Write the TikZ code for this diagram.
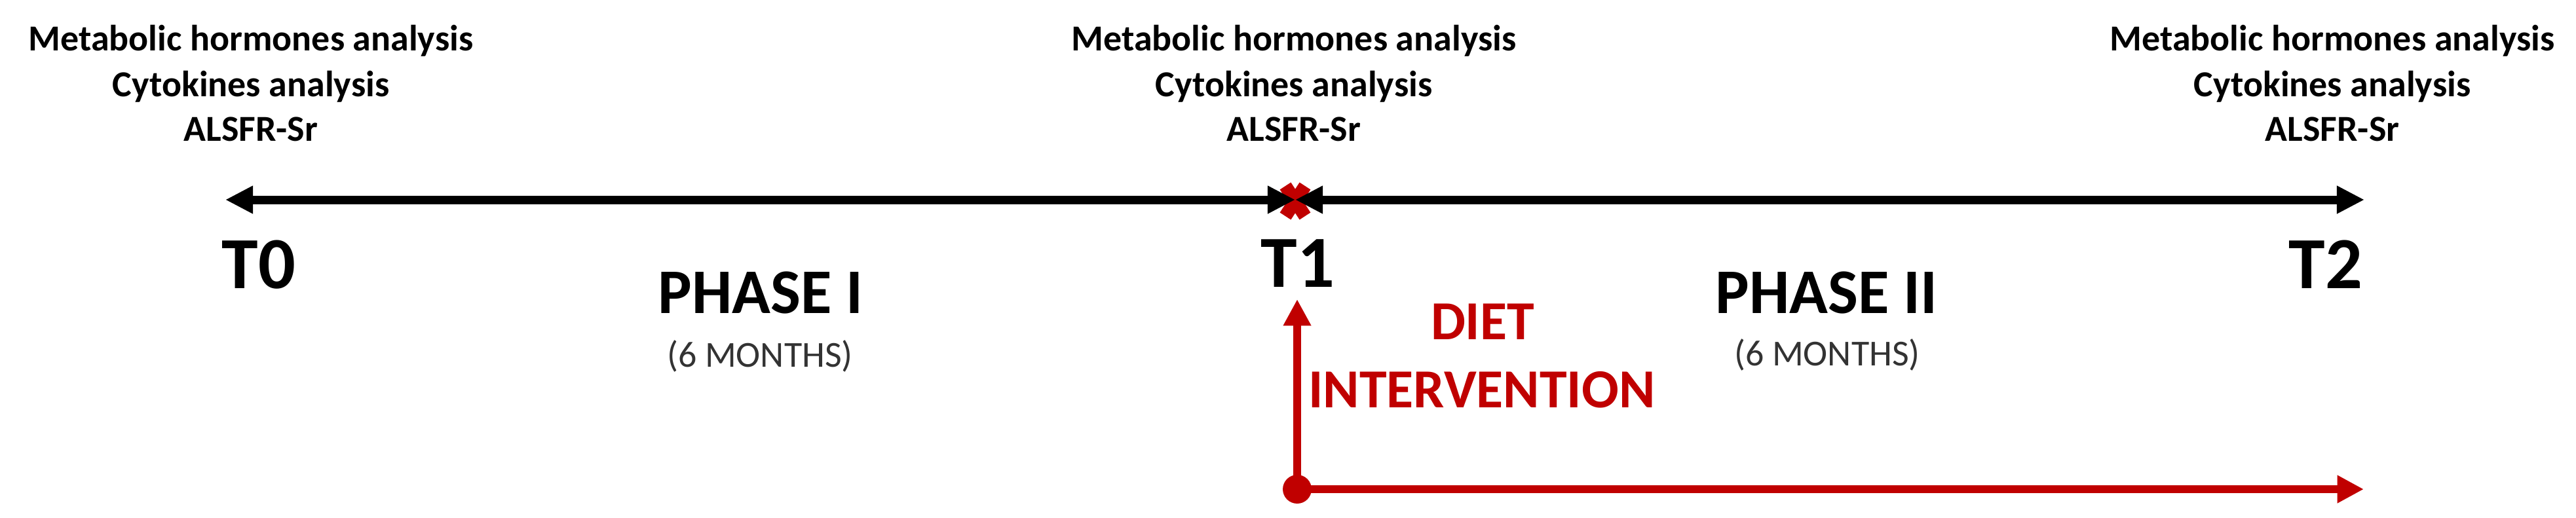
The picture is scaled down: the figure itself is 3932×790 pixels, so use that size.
\documentclass[tikz,border=0pt]{standalone}
\usepackage{fontspec}
\setmainfont{Carlito}
\usetikzlibrary{arrows.meta}
\definecolor{dred}{HTML}{C00000}
\tikzset{
  meas/.style={font=\bfseries\fontsize{15.9}{19}\selectfont, anchor=base, inner sep=0},
  tlabel/.style={font=\bfseries\fontsize{31.9}{38}\selectfont, anchor=base, inner sep=0},
  phase/.style={font=\bfseries\fontsize{27.6}{33}\selectfont, anchor=base, inner sep=0},
  months/.style={font=\fontsize{15.9}{19}\selectfont, text=black!80, anchor=base, inner sep=0},
  diet/.style={font=\bfseries\fontsize{23.9}{29}\selectfont, text=dred, anchor=base, inner sep=0},
  axisline/.style={line width=3.7pt, {Triangle[length=12pt,width=11.4pt]}-{Triangle[length=12pt,width=11.4pt]}},
  redarrow/.style={line width=3.4pt, dred, -{Triangle[length=11.5pt,width=11.4pt]}},
}
\begin{document}
\begin{tikzpicture}[x=0.01cm,y=-0.01cm]
\useasboundingbox[fill=white] (0,0) rectangle (3932,790);

% measurement texts
\node[meas] (m0a) at (383,77) {Metabolic hormones analysis};
\node[meas] (m0b) at (383,147) {Cytokines analysis};
\node[meas] (m0c) at (383,215) {ALSFR-Sr};
\node[meas] (m1a) at (1975,77) {Metabolic hormones analysis};
\node[meas] (m1b) at (1975,147) {Cytokines analysis};
\node[meas] (m1c) at (1975,215) {ALSFR-Sr};
\node[meas] (m2a) at (3560,77) {Metabolic hormones analysis};
\node[meas] (m2b) at (3560,147) {Cytokines analysis};
\node[meas] (m2c) at (3560,215) {ALSFR-Sr};

% time points
\coordinate (p0) at (344,305);
\coordinate (p1) at (1977,305);
\coordinate (p2) at (3609,305);

% red cross marker at T1
\draw[dred, line width=5.7pt] (1962,284) -- (1992,330);
\draw[dred, line width=5.7pt] (1992,284) -- (1962,330);

% timeline
\draw[axisline] (p0) -- (p1);
\draw[axisline] (p1) -- (p2);

\node[tlabel] (t0) at (395,440) {T0};
\node[tlabel] (t1) at (1981,438) {T1};
\node[tlabel] (t2) at (3550,440) {T2};

% phases
\node[phase] (ph1) at (1161,478) {PHASE I};
\node[months] (mo1) at (1160,560) {(6 MONTHS)};
\node[phase] (ph2) at (2788,478) {PHASE II};
\node[months] (mo2) at (2789,558) {(6 MONTHS)};

% diet intervention
\node[diet] (d1) at (2263,518) {DIET};
\node[diet] (d2) at (2262,622) {INTERVENTION};

\node[circle, fill=dred, minimum size=12.5pt, inner sep=0] (dot) at (1980,747) {};
\coordinate (up) at (1980,457);
\coordinate (rend) at (3608,747);
\draw[redarrow] (dot.center) -- (up);
\draw[redarrow] (dot.center) -- (rend);
\end{tikzpicture}
\end{document}
